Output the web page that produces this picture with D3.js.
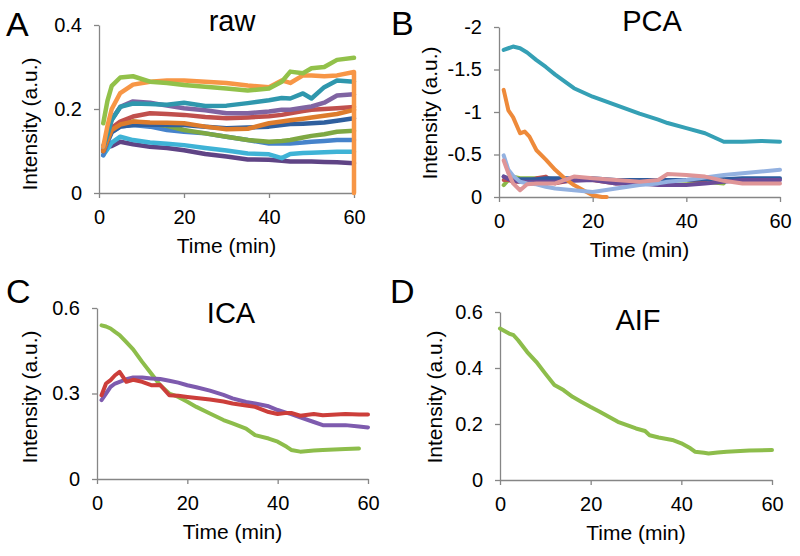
<!DOCTYPE html>
<html>
<head>
<meta charset="utf-8">
<script src="https://cdn.jsdelivr.net/npm/d3@7"></script>
<style>
  body { margin: 0; background: #fff; }
  svg { display: block; font-family: "Liberation Sans", Arial, sans-serif; }
  .axis path, .axis line { stroke: #868686; stroke-width: 1.3; }
  .axis text { fill: #000; font-size: 20px; font-family: "Liberation Sans", Arial, sans-serif; }
</style>
</head>
<body>
<svg id="canvas"></svg>
<script>
// ---- data (time in min, intensity in a.u.) ----
let rawTimes = [1, 2, 3, 5, 8, 12, 16, 20, 25, 30, 35, 40, 43, 45, 48, 50, 53, 56, 60];
let rawGreen = [0.166, 0.22, 0.255, 0.275, 0.278, 0.265, 0.262, 0.257, 0.253, 0.249, 0.244, 0.249, 0.265, 0.289, 0.285, 0.297, 0.300, 0.317, 0.322];
let rawOrange = [0.11, 0.16, 0.2, 0.238, 0.258, 0.265, 0.268, 0.268, 0.265, 0.262, 0.256, 0.252, 0.268, 0.262, 0.28, 0.28, 0.278, 0.28, 0.288];
let rawTeal = [0.11, 0.14, 0.174, 0.205, 0.213, 0.212, 0.21, 0.215, 0.207, 0.208, 0.214, 0.221, 0.226, 0.225, 0.237, 0.225, 0.252, 0.268, 0.265];
let rawPurple = [0.11, 0.14, 0.175, 0.205, 0.218, 0.215, 0.208, 0.202, 0.197, 0.19, 0.19, 0.194, 0.198, 0.198, 0.203, 0.206, 0.215, 0.232, 0.235];
let rawRed = [0.1, 0.13, 0.155, 0.17, 0.182, 0.19, 0.188, 0.186, 0.181, 0.178, 0.18, 0.183, 0.186, 0.19, 0.195, 0.198, 0.2, 0.202, 0.205];
let rawDarkOrange = [0.1, 0.125, 0.15, 0.163, 0.17, 0.168, 0.167, 0.166, 0.158, 0.152, 0.153, 0.166, 0.17, 0.173, 0.177, 0.18, 0.184, 0.188, 0.198];
let rawDarkBlue = [0.1, 0.125, 0.145, 0.158, 0.162, 0.163, 0.162, 0.162, 0.158, 0.154, 0.156, 0.158, 0.162, 0.164, 0.165, 0.166, 0.168, 0.172, 0.178];
let rawGreen2 = [0.1, 0.13, 0.15, 0.163, 0.17, 0.165, 0.16, 0.15, 0.142, 0.134, 0.126, 0.122, 0.124, 0.126, 0.132, 0.136, 0.14, 0.146, 0.148];
let rawBlue = [0.09, 0.12, 0.145, 0.158, 0.162, 0.158, 0.15, 0.146, 0.142, 0.134, 0.126, 0.118, 0.118, 0.118, 0.12, 0.122, 0.124, 0.126, 0.126];
let rawCyan = [0.09, 0.105, 0.12, 0.134, 0.126, 0.12, 0.117, 0.114, 0.107, 0.101, 0.094, 0.092, 0.083, 0.093, 0.095, 0.096, 0.097, 0.098, 0.098];
let rawDarkPurple = [0.1, 0.11, 0.112, 0.122, 0.116, 0.11, 0.107, 0.102, 0.093, 0.087, 0.08, 0.079, 0.077, 0.075, 0.075, 0.075, 0.074, 0.073, 0.071];

let pcaTimes = [1, 2, 3, 4.5, 6, 8, 10, 12, 16, 20, 25, 30, 34, 36, 40, 44, 48, 52, 56, 60];
let pcaTeal = [-1.73, -1.75, -1.77, -1.75, -1.7, -1.61, -1.53, -1.44, -1.28, -1.18, -1.08, -0.98, -0.91, -0.87, -0.81, -0.75, -0.65, -0.65, -0.66, -0.65];
let pcaLightBlue = [-0.49, -0.32, -0.25, -0.18, -0.16, -0.15, -0.12, -0.10, -0.08, -0.06, -0.10, -0.14, -0.16, -0.18, -0.20, -0.23, -0.26, -0.28, -0.30, -0.32];
let pcaPink = [-0.43, -0.28, -0.16, -0.08, -0.15, -0.16, -0.16, -0.16, -0.24, -0.22, -0.20, -0.18, -0.2, -0.27, -0.26, -0.24, -0.19, -0.16, -0.16, -0.16];
let pcaDarkPurple = [-0.24, -0.21, -0.19, -0.18, -0.18, -0.18, -0.18, -0.18, -0.19, -0.20, -0.16, -0.16, -0.14, -0.14, -0.14, -0.16, -0.18, -0.2, -0.2, -0.2];
let pcaDarkBlue = [-0.24, -0.22, -0.21, -0.21, -0.21, -0.21, -0.22, -0.22, -0.22, -0.22, -0.2, -0.2, -0.2, -0.2, -0.2, -0.21, -0.21, -0.22, -0.22, -0.22];
let pcaGreen = [-0.14, -0.2, -0.24, -0.22, -0.22, -0.22, -0.22, -0.21, -0.2, -0.2, -0.2, -0.2, -0.19, -0.2, -0.19, -0.18, -0.16, null, null, null];
let pcaRed = [-0.2, -0.2, -0.18, -0.18, -0.18, -0.22, -0.24, -0.16, -0.2, -0.2, -0.16, -0.18, -0.19, -0.2, -0.2, -0.19, null, null, null, null];
let pcaOrangeTimes = [1, 2, 3, 4.5, 5.5, 6.5, 8, 10, 12, 14, 16, 18, 20, 22, 23];
let pcaOrange = [-1.26, -1.02, -0.94, -0.75, -0.77, -0.71, -0.55, -0.44, -0.32, -0.22, -0.14, -0.08, -0.02, 0, 0];

let icaTimes = [1, 2, 3, 4, 5, 6.5, 8, 10, 12, 14, 16, 18, 20, 22, 25, 28, 30, 33, 35, 38, 40, 42, 43, 45, 48, 50, 55, 58, 60];
let icaGreen = [0.539, 0.535, 0.528, 0.516, 0.505, 0.48, 0.455, 0.411, 0.37, 0.329, 0.3, 0.288, 0.271, 0.253, 0.23, 0.207, 0.195, 0.177, 0.154, 0.142, 0.131, 0.113, 0.102, 0.096, 0.1, 0.102, 0.105, 0.107, null];
let icaPurple = [0.277, 0.3, 0.323, 0.335, 0.341, 0.35, 0.356, 0.356, 0.353, 0.351, 0.345, 0.338, 0.329, 0.322, 0.31, 0.295, 0.283, 0.27, 0.265, 0.255, 0.242, 0.232, 0.228, 0.216, 0.2, 0.189, 0.189, 0.184, 0.181];
let icaRed = [0.294, 0.335, 0.347, 0.364, 0.376, 0.341, 0.348, 0.341, 0.329, 0.33, 0.294, 0.292, 0.288, 0.284, 0.279, 0.272, 0.265, 0.258, 0.253, 0.235, 0.228, 0.232, 0.232, 0.222, 0.228, 0.224, 0.228, 0.226, 0.226];

let aifTimes = [0, 1, 2, 3, 4, 6, 8, 10, 12, 14, 16, 18, 20, 22, 24, 26, 28, 30, 32, 33, 35, 38, 40, 42, 43, 45, 46, 48, 50, 55, 60];
let aifValues = [0.541, 0.532, 0.523, 0.517, 0.499, 0.457, 0.422, 0.38, 0.339, 0.321, 0.297, 0.279, 0.261, 0.244, 0.226, 0.208, 0.196, 0.184, 0.175, 0.16, 0.152, 0.143, 0.131, 0.113, 0.101, 0.097, 0.095, 0.098, 0.101, 0.105, 0.107];

let xTicks = [0, 20, 40, 60];

let width = 800;
let height = 556;

let canvas = d3.select('#canvas').attr('width', width).attr('height', height);

let pair = (ts, vs) => ts.map((t, i) => ({ t: t, v: vs[i] }));

// raw orange drops to zero at the last frame
let rawOrangePts = pair(rawTimes, rawOrange).concat([{ t: 60, v: 0.0 }]);

let panels = [
	{
		letter: 'A', title: 'raw', lx: 6, ly: 36, tx: 232, ty: 31,
		x0: 99, x1: 354, yTop: 25, yBot: 193, domain: [0, 0.4], yTicks: [0, 0.2, 0.4], labelY: 124, labelX: 30, sw: 4.5,
		series: [
			[pair(rawTimes, rawDarkPurple), '#5f4485'],
			[pair(rawTimes, rawCyan), '#3fb3d6'],
			[pair(rawTimes, rawBlue), '#4683cb'],
			[pair(rawTimes, rawGreen2), '#7ea843'],
			[pair(rawTimes, rawDarkBlue), '#2f5f9e'],
			[pair(rawTimes, rawRed), '#c0504d'],
			[pair(rawTimes, rawDarkOrange), '#dd7c2c'],
			[pair(rawTimes, rawPurple), '#8064a2'],
			[pair(rawTimes, rawTeal), '#2f97ad'],
			[rawOrangePts, '#f79646'],
			[pair(rawTimes, rawGreen), '#92c14a']
		]
	},
	{
		letter: 'B', title: 'PCA', lx: 391, ly: 35, tx: 652, ty: 31,
		x0: 499, x1: 780, yTop: 27, yBot: 197, domain: [0, -2], yTicks: [0, -0.5, -1, -1.5, -2], labelY: 113, labelX: 430, sw: 4,
		series: [
			[pair(pcaTimes, pcaGreen), '#8cb84a'],
			[pair(pcaTimes, pcaRed), '#c0504d'],
			[pair(pcaTimes, pcaDarkBlue), '#2e5c9e'],
			[pair(pcaTimes, pcaDarkPurple), '#6a4b98'],
			[pair(pcaOrangeTimes, pcaOrange), '#ee8a3a'],
			[pair(pcaTimes, pcaLightBlue), '#93b1e0'],
			[pair(pcaTimes, pcaPink), '#df9597'],
			[pair(pcaTimes, pcaTeal), '#35a0b5']
		]
	},
	{
		letter: 'C', title: 'ICA', lx: 6, ly: 303, tx: 231, ty: 323,
		x0: 97, x1: 368, yTop: 308, yBot: 479, domain: [0, 0.6], yTicks: [0, 0.3, 0.6], labelY: 397, labelX: 30, sw: 4,
		series: [
			[pair(icaTimes, icaGreen), '#8dbd4b'],
			[pair(icaTimes, icaPurple), '#7e5bae'],
			[pair(icaTimes, icaRed), '#cc3e3a']
		]
	},
	{
		letter: 'D', title: 'AIF', lx: 390, ly: 303, tx: 638, ty: 330,
		x0: 500, x1: 772, yTop: 312, yBot: 480, domain: [0, 0.6], yTicks: [0, 0.2, 0.4, 0.6], labelY: 397, labelX: 435, sw: 4,
		series: [
			[pair(aifTimes, aifValues), '#8dbd4b']
		]
	}
];

let drawPanel = (p) => {
	let xScale = d3.scaleLinear().domain([0, 60]).range([p.x0, p.x1]);
	let yScale = d3.scaleLinear().domain(p.domain).range([p.yBot, p.yTop]);

	let xAxis = d3.axisBottom(xScale).tickValues(xTicks).tickSize(5).tickSizeOuter(0).tickPadding(12).tickFormat(d => String(d));
	let yAxis = d3.axisLeft(yScale).tickValues(p.yTicks).tickSize(5).tickSizeOuter(0).tickPadding(12).tickFormat(d => String(d));

	canvas.append('g').attr('class', 'axis').attr('transform', `translate(0, ${p.yBot})`).call(xAxis);
	canvas.append('g').attr('class', 'axis').attr('transform', `translate(${p.x0}, 0)`).call(yAxis);

	let line = d3.line()
		.defined(d => d.v !== null)
		.x(d => xScale(d.t))
		.y(d => yScale(d.v));

	p.series.forEach(s => {
		canvas.append('path')
			.datum(s[0])
			.attr('fill', 'none')
			.attr('stroke', s[1])
			.attr('stroke-width', p.sw)
			.attr('stroke-linejoin', 'round')
			.attr('stroke-linecap', 'round')
			.attr('d', line);
	});

	// titles and labels
	canvas.append('text').attr('x', p.lx).attr('y', p.ly).attr('font-size', 34).text(p.letter);
	canvas.append('text').attr('x', p.tx).attr('y', p.ty).attr('font-size', 29).attr('text-anchor', 'middle').text(p.title);
	canvas.append('text').attr('x', (p.x0 + p.x1) / 2).attr('y', p.yBot + 60).attr('font-size', 21).attr('text-anchor', 'middle').text('Time (min)');
	canvas.append('text')
		.attr('transform', `translate(${p.labelX}, ${p.labelY}) rotate(-90)`)
		.attr('font-size', 21)
		.attr('text-anchor', 'middle')
		.attr('dy', '0.35em')
		.text('Intensity (a.u.)');
};

panels.forEach(drawPanel);
</script>
</body>
</html>
